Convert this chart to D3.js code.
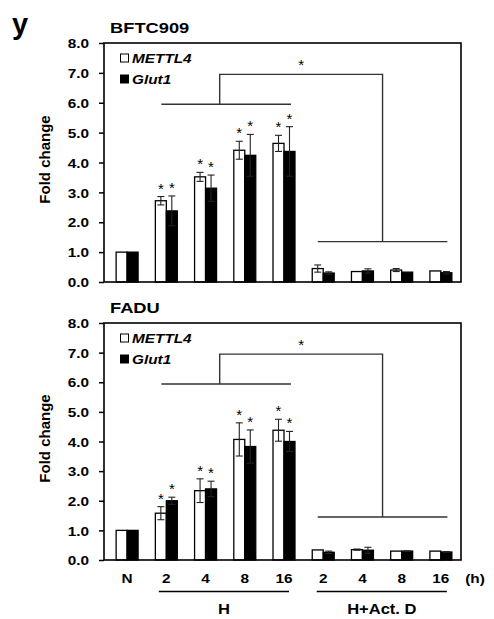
<!DOCTYPE html>
<html><head>
<meta charset="utf-8">
<script src="https://d3js.org/d3.v7.min.js"></script>
<style>
  body { margin: 0; background: #fff; }
  svg text { font-family: "Liberation Sans", Arial, sans-serif; font-weight: bold; fill: #000; }
</style>
</head>
<body>
<svg id="chart" width="494" height="619"></svg>
<script>
// ---- data ----
const tickLabels = ["N", "2", "4", "8", "16", "2", "4", "8", "16"];
const seriesNames = ["METTL4", "Glut1"];
const yTicks = [0, 1, 2, 3, 4, 5, 6, 7, 8];
const starred = [false, true, true, true, true, false, false, false, false];
const hGroups = [1, 4];     // first / last index of "H"
const dGroups = [5, 8];     // first / last index of "H+Act. D"

const bftcMettl4    = [1.00, 2.72, 3.52, 4.41, 4.64, 0.45, 0.35, 0.40, 0.37];
const bftcMettl4Err = [0,    0.14, 0.15, 0.30, 0.27, 0.12, 0,    0.05, 0];
const bftcGlut1     = [1.00, 2.38, 3.14, 4.24, 4.37, 0.30, 0.37, 0.33, 0.31];
const bftcGlut1Err  = [0,    0.50, 0.44, 0.70, 0.83, 0.04, 0.07, 0,    0.04];

const faduMettl4    = [1.00, 1.58, 2.34, 4.07, 4.38, 0.34, 0.35, 0.30, 0.30];
const faduMettl4Err = [0,    0.22, 0.40, 0.56, 0.37, 0,    0.02, 0,    0];
const faduGlut1     = [1.00, 2.00, 2.40, 3.83, 4.00, 0.26, 0.33, 0.30, 0.27];
const faduGlut1Err  = [0,    0.12, 0.26, 0.56, 0.34, 0.04, 0.10, 0.01, 0.01];

// bracket levels: low line over H, top line, low line over H+Act. D
const bftcBracket = [5.95, 6.95, 1.35];
const faduBracket = [5.94, 6.95, 1.45];

// ---- layout ----
const svg = d3.select("svg#chart");
const left = 104, right = 461;
const sx = 1.18; // the picture is a bit wider than tall

function stretch(sel, k) {
  sel.each(function () {
    const w = this.getComputedTextLength();
    this.setAttribute("textLength", w * k);
    this.setAttribute("lengthAdjust", "spacingAndGlyphs");
  });
}

const x = d3.scaleBand()
  .domain(d3.range(tickLabels.length))
  .range([107.5, 460.5])
  .paddingInner(0.44)
  .paddingOuter(0.22);
const xs = d3.scaleBand().domain([0, 1]).range([0, x.bandwidth()]);

svg.append("text").attr("x", 12).attr("y", 34)
  .style("font-size", "29px").text("y");

function panel(title, top, bottom, m, mErr, g, gErr, br) {
  const y = d3.scaleLinear().domain([0, 8]).range([bottom, top]);
  const gp = svg.append("g");

  gp.append("text").attr("x", 110).attr("y", top - 10)
    .style("font-size", "15.5px").text(title).call(stretch, sx);

  // y axis
  const ax = gp.append("g").attr("transform", `translate(${left},0)`)
    .call(d3.axisLeft(y).tickValues(yTicks).tickFormat(d3.format(".1f"))
      .tickSize(5).tickPadding(10));
  ax.select(".domain").remove();
  ax.selectAll(".tick line").attr("stroke", "#000").attr("stroke-width", 1.5);
  ax.selectAll(".tick text")
    .style("font-size", "13px")
    .style("font-family", "'Liberation Sans', Arial, sans-serif")
    .style("font-weight", "bold")
    .attr("dy", "0.36em")
    .call(stretch, sx);

  gp.append("text")
    .attr("transform", `translate(50,${(top + bottom) / 2 - 3}) rotate(-90)`)
    .attr("text-anchor", "middle")
    .style("font-size", "15px").text("Fold change");

  // bars
  const sets = [[m, mErr], [g, gErr]];
  sets.forEach((s, si) => {
    const vals = s[0], errs = s[1];
    vals.forEach((v, i) => {
      const bx = x(i) + xs(si);
      gp.append("rect")
        .attr("x", bx).attr("y", y(v))
        .attr("width", xs.bandwidth()).attr("height", y(0) - y(v))
        .attr("fill", si === 0 ? "#fff" : "#000")
        .attr("stroke", "#000").attr("stroke-width", 1.3);
      const cx = bx + xs.bandwidth() / 2;
      if (errs[i] > 0) {
        gp.append("line").attr("x1", cx).attr("x2", cx)
          .attr("y1", y(v - errs[i])).attr("y2", y(v + errs[i]))
          .attr("stroke", "#222").attr("stroke-width", 1.1);
        [v - errs[i], v + errs[i]].forEach(e => {
          gp.append("line").attr("x1", cx - 3.5).attr("x2", cx + 3.5)
            .attr("y1", y(e)).attr("y2", y(e))
            .attr("stroke", "#222").attr("stroke-width", 1.1);
        });
      }
      if (starred[i]) {
        gp.append("text").attr("x", cx).attr("y", y(v + errs[i]) - 3)
          .attr("text-anchor", "middle")
          .style("font-size", "15px").style("font-weight", "normal").text("*");
      }
    });
  });

  // frame
  gp.append("rect").attr("x", left).attr("y", top)
    .attr("width", right - left).attr("height", bottom - top)
    .attr("fill", "none").attr("stroke", "#000").attr("stroke-width", 1.6);

  // legend
  seriesNames.forEach((name, si) => {
    const ly = top + 11 + si * 21;
    gp.append("rect").attr("x", 120.5).attr("y", ly)
      .attr("width", 8).attr("height", 8)
      .attr("fill", si === 0 ? "#fff" : "#000")
      .attr("stroke", "#000").attr("stroke-width", 1);
    gp.append("text").attr("x", 132).attr("y", ly + 9)
      .style("font-size", "13px").style("font-style", "italic")
      .text(name).call(stretch, sx);
  });

  // significance bracket
  const hx1 = x(hGroups[0]) + x.bandwidth() / 2 - 5;
  const hx2 = x(hGroups[1]) + x.bandwidth() / 2 + 7;
  const dx1 = x(dGroups[0]) + x.bandwidth() / 2 - 5.5;
  const dx2 = x(dGroups[1]) + x.bandwidth() / 2 + 6.5;
  const stemH = hx1 + (hx2 - hx1) * 0.45;
  const stemD = dx1 + (dx2 - dx1) * 0.5;
  const path = d3.path();
  path.moveTo(hx1, y(br[0])); path.lineTo(hx2, y(br[0]));
  path.moveTo(stemH, y(br[0])); path.lineTo(stemH, y(br[1]));
  path.lineTo(stemD, y(br[1])); path.lineTo(stemD, y(br[2]));
  path.moveTo(dx1, y(br[2])); path.lineTo(dx2, y(br[2]));
  gp.append("path").attr("d", path.toString())
    .attr("fill", "none").attr("stroke", "#333").attr("stroke-width", 1.4);
  gp.append("text").attr("x", (stemH + stemD) / 2).attr("y", y(br[1]) - 4)
    .attr("text-anchor", "middle")
    .style("font-size", "15px").style("font-weight", "normal").text("*");

  return y;
}

panel("BFTC909", 43, 282, bftcMettl4, bftcMettl4Err, bftcGlut1, bftcGlut1Err, bftcBracket);
panel("FADU", 323, 560, faduMettl4, faduMettl4Err, faduGlut1, faduGlut1Err, faduBracket);

// x labels under the lower panel
tickLabels.forEach((t, i) => {
  svg.append("text").attr("x", x(i) + x.bandwidth() / 2).attr("y", 583)
    .attr("text-anchor", "middle").style("font-size", "13px")
    .text(t).call(stretch, sx);
});
svg.append("text").attr("x", 475).attr("y", 583)
  .attr("text-anchor", "middle").style("font-size", "13px")
  .text("(h)").call(stretch, sx);

[[hGroups, "H", -7.5, 5], [dGroups, "H+Act. D", -6.5, 6]].forEach(([gr, label, a, b]) => {
  const x1 = x(gr[0]) + x.bandwidth() / 2 + a;
  const x2 = x(gr[1]) + x.bandwidth() / 2 + b;
  svg.append("line").attr("x1", x1).attr("x2", x2)
    .attr("y1", 591.5).attr("y2", 591.5)
    .attr("stroke", "#000").attr("stroke-width", 1.6);
  svg.append("text").attr("x", (x1 + x2) / 2).attr("y", 614)
    .attr("text-anchor", "middle").style("font-size", "14px")
    .text(label).call(stretch, sx);
});
</script>
</body>
</html>
